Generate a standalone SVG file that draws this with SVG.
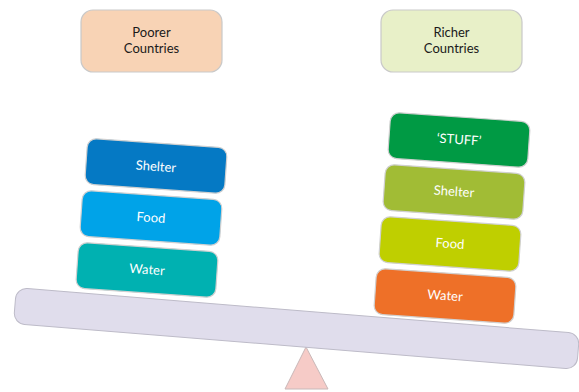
<svg xmlns="http://www.w3.org/2000/svg" width="579" height="392" viewBox="0 0 579 392">
<style>
.hdr{stroke:#c9c9c9;stroke-width:1.2}
.blk{stroke:#d0d0d0;stroke-width:1.2}
.t{font-family:Lato,"Open Sans","Liberation Sans",sans-serif;font-size:13px;text-anchor:middle}
.w{fill:#ffffff}
.k{fill:#1a1a1a}
</style>
<rect width="579" height="392" fill="#ffffff"/>
<g id="fulcrum">
<polygon points="306,347 285,389 328,389" fill="#f6cbc7" stroke="#c9b8b8" stroke-width="1"/>
</g>
<g id="beam">
<rect x="14" y="310.5" width="565" height="36" rx="11" transform="rotate(4.65 296.5 328.5)" fill="#e0ddec" stroke="#bdbbc8" stroke-width="1"/>
</g>
<g id="poorer">
<rect class="hdr" x="81" y="10" width="141" height="62" rx="12" fill="#f8d3b5"/>
<text class="t k" x="151.5" y="37">Poorer</text>
<text class="t k" x="151.5" y="53">Countries</text>
</g>
<g id="richer">
<rect class="hdr" x="381" y="10" width="141" height="62" rx="12" fill="#e8f0c8"/>
<text class="t k" x="451.5" y="37">Richer</text>
<text class="t k" x="451.5" y="53">Countries</text>
</g>
<g id="poor-shelter" transform="translate(156 166) rotate(4)">
<rect class="blk" x="-70" y="-23" width="140" height="46" rx="9" fill="#0579c4"/>
<text class="t w" x="0" y="5">Shelter</text>
</g>
<g id="poor-food" transform="translate(151 218) rotate(4)">
<rect class="blk" x="-70" y="-23" width="140" height="46" rx="9" fill="#00a3e8"/>
<text class="t w" x="0" y="4">Food</text>
</g>
<g id="poor-water" transform="translate(147 270) rotate(4)">
<rect class="blk" x="-70" y="-23" width="140" height="46" rx="9" fill="#00b1b1"/>
<text class="t w" x="0" y="4">Water</text>
</g>
<g id="rich-stuff" transform="translate(459 140) rotate(4)">
<rect class="blk" x="-70" y="-23" width="140" height="46" rx="9" fill="#009a44"/>
<text class="t w" x="0" y="4">‘STUFF’</text>
</g>
<g id="rich-shelter" transform="translate(454 192) rotate(4)">
<rect class="blk" x="-70" y="-23" width="140" height="46" rx="9" fill="#a1bc35"/>
<text class="t w" x="0" y="4">Shelter</text>
</g>
<g id="rich-food" transform="translate(450 244) rotate(4)">
<rect class="blk" x="-70" y="-23" width="140" height="46" rx="9" fill="#bfcf00"/>
<text class="t w" x="0" y="4">Food</text>
</g>
<g id="rich-water" transform="translate(445 296) rotate(4)">
<rect class="blk" x="-70" y="-23" width="140" height="46" rx="9" fill="#ee7028"/>
<text class="t w" x="0" y="4">Water</text>
</g>
</svg>
